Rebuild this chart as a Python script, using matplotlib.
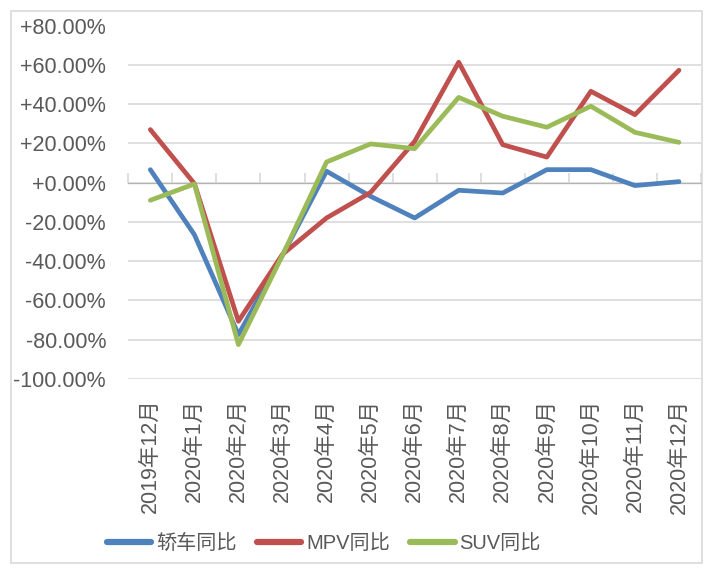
import matplotlib
matplotlib.use('Agg')
import matplotlib.pyplot as plt
from matplotlib.patches import Rectangle

plt.rcParams['font.family'] = ['Liberation Sans', 'Noto Sans CJK SC']

# data (yoy %)
months = ['2019年12月', '2020年1月', '2020年2月', '2020年3月', '2020年4月',
          '2020年5月', '2020年6月', '2020年7月', '2020年8月', '2020年9月',
          '2020年10月', '2020年11月', '2020年12月']
sedan = [6.6, -26.5, -77.4, -37.0, 5.8, -7.0, -18.0, -3.9, -5.3, 6.6, 6.6, -1.5, 0.5]
mpv = [27.0, -0.5, -70.6, -36.5, -18.0, -5.0, 21.0, 61.3, 19.3, 13.0, 46.5, 34.6, 57.2]
suv = [-9.0, -0.7, -82.5, -37.0, 10.5, 19.7, 17.3, 43.4, 33.8, 28.2, 38.9, 25.6, 20.5]
series_names = ['轿车同比', 'MPV同比', 'SUV同比']
colors = ['#4F81BD', '#C0504D', '#9BBB59']

y_min, y_max = -100, 80
y_ticks = list(range(-100, 81, 20))

text_color = '#595959'
grid_color = '#D9D9D9'

W, H = 715, 574
fig = plt.figure(figsize=(W / 100, H / 100), dpi=100)

# outer chart border
fig.patches.append(Rectangle((11 / W, 1 - 563 / H), (702 - 11) / W, (563 - 11) / H,
                             transform=fig.transFigure, fill=False,
                             edgecolor=grid_color, linewidth=1.2))

ax = fig.add_axes([128.3 / W, 1 - 379 / H, (701 - 128.3) / W, (379 - 25.5) / H])

x = list(range(len(months)))
handles = []
for vals, name, c in zip([sedan, mpv, suv], series_names, colors):
    h, = ax.plot(x, vals, color=c, linewidth=3.4, solid_capstyle='round',
                 solid_joinstyle='round', label=name, zorder=3)
    handles.append(h)

ax.set_xlim(-0.5, len(months) - 0.5)
ax.set_ylim(y_min, y_max)

ax.set_yticks(y_ticks)
ax.set_yticklabels([f'{v:+.2f}%' for v in y_ticks])
ax.yaxis.grid(True, color=grid_color, linewidth=1.2)
ax.set_axisbelow(True)

ax.set_xticks(x)
ax.set_xticklabels(months, rotation=90, va='top', ha='center')
ax.tick_params(axis='x', length=0, pad=14, labelsize=15.5, colors=text_color)
ax.tick_params(axis='y', length=0, pad=16, labelsize=15.5, colors=text_color)

for s in ax.spines.values():
    s.set_visible(False)

# category axis crossing at 0 with tick marks between categories
zero_pos = (0 - y_min) / (y_max - y_min)
sec = ax.secondary_xaxis(zero_pos)
sec.set_xticks([i - 0.5 for i in range(len(months) + 1)])
sec.set_xticklabels([])
sec.tick_params(axis='x', direction='out', length=7, width=1.2, color=grid_color)
sec.spines['bottom'].set_color(grid_color)
sec.spines['bottom'].set_linewidth(1.2)

leg = fig.legend(handles, series_names, loc='center',
                 bbox_to_anchor=(324 / W, 1 - 543 / H), ncol=3, frameon=False,
                 fontsize=14.5, handlelength=2.2, handletextpad=0.25,
                 columnspacing=1.0)
for t in leg.get_texts():
    t.set_color(text_color)
for lh in leg.get_lines():
    lh.set_linewidth(4.5)

fig.savefig('out.png', dpi=100)
